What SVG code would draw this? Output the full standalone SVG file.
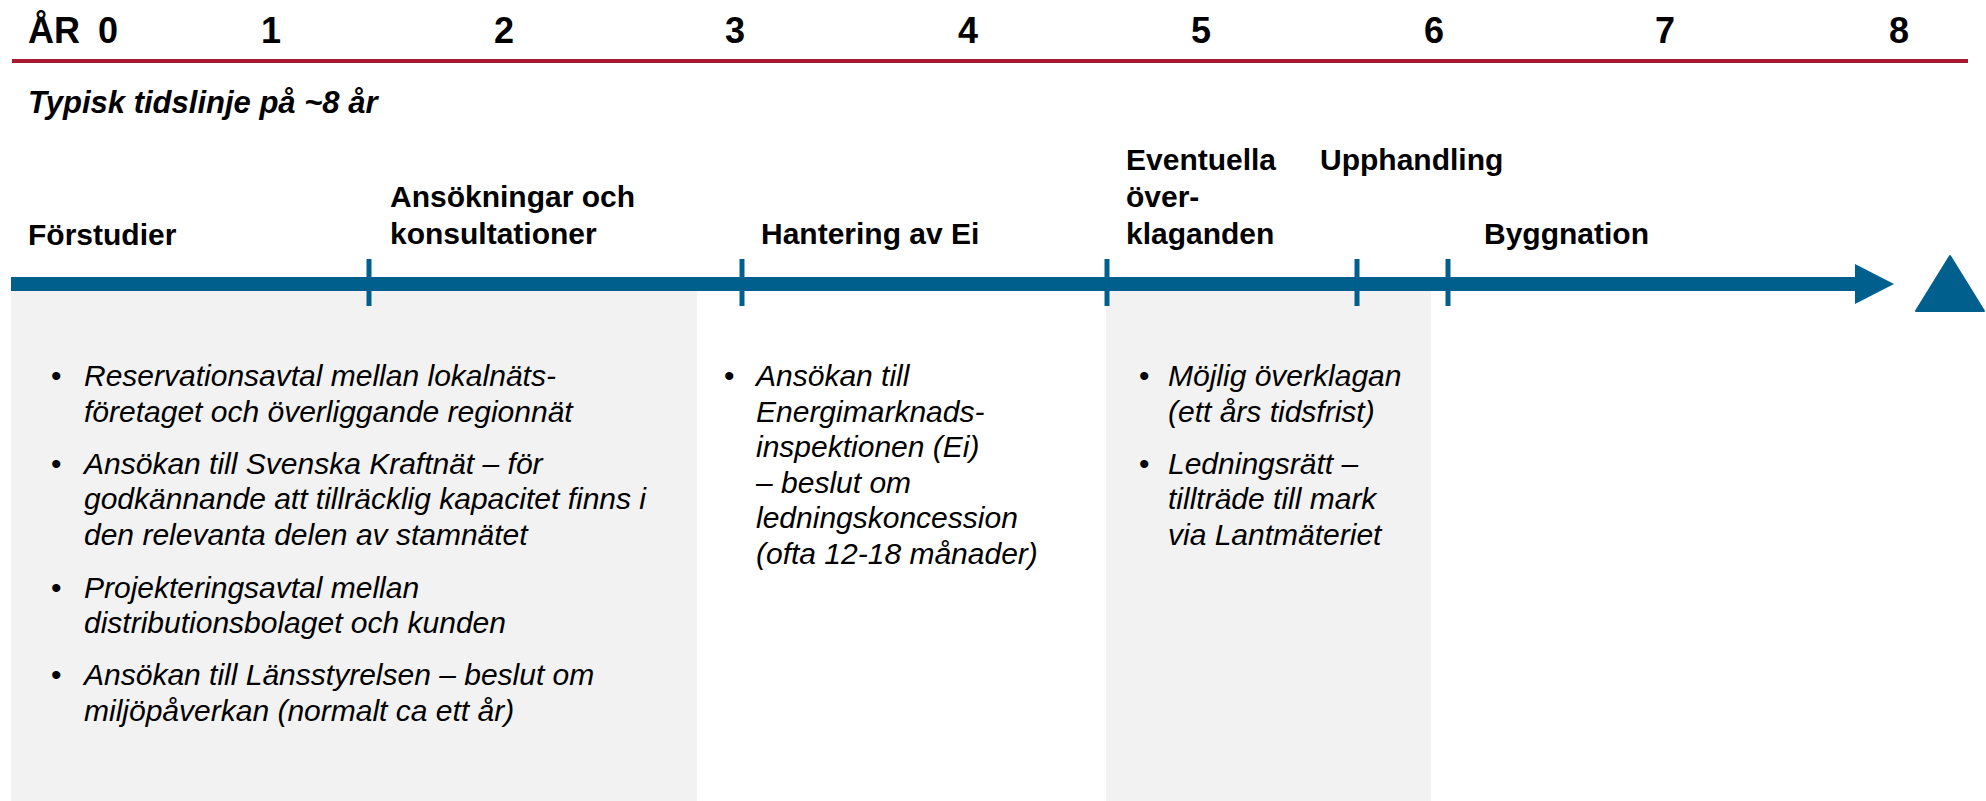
<svg xmlns="http://www.w3.org/2000/svg" width="1986" height="801" viewBox="0 0 1986 801">
<style>
.yr{font-family:"Liberation Sans",Arial,sans-serif;font-weight:bold;font-size:36px;fill:#000}
.ph{font-family:"Liberation Sans",Arial,sans-serif;font-weight:bold;font-size:30px;fill:#000}
.sub{font-family:"Liberation Sans",Arial,sans-serif;font-weight:bold;font-style:italic;font-size:31px;fill:#000}
.bl{font-family:"Liberation Sans",Arial,sans-serif;font-style:italic;font-size:30px;fill:#000}
.bu{font-family:"Liberation Sans",Arial,sans-serif;font-size:30px;fill:#000}
.box{fill:#F2F2F2}
.tick{stroke:#005F8C;stroke-width:5}
</style>
<rect width="1986" height="801" fill="#FFFFFF"/>
<g id="header">
<text class="yr" x="28" y="43">ÅR <tspan x="98">0</tspan></text>
<text class="yr" x="271" y="43" text-anchor="middle">1</text>
<text class="yr" x="504" y="43" text-anchor="middle">2</text>
<text class="yr" x="735" y="43" text-anchor="middle">3</text>
<text class="yr" x="968" y="43" text-anchor="middle">4</text>
<text class="yr" x="1201" y="43" text-anchor="middle">5</text>
<text class="yr" x="1434" y="43" text-anchor="middle">6</text>
<text class="yr" x="1665" y="43" text-anchor="middle">7</text>
<text class="yr" x="1899" y="43" text-anchor="middle">8</text>
<line x1="12" y1="61" x2="1968" y2="61" stroke="#A6192E" stroke-width="4"/>
<text class="sub" x="28" y="113">Typisk tidslinje på ~8 år</text>
</g>
<g id="box-forstudier"><rect class="box" x="11" y="291" width="686" height="510"/></g>
<g id="box-overklaganden"><rect class="box" x="1106" y="291" width="325" height="510"/></g>
<g id="connectors">
<rect x="11" y="277" width="1845" height="14" fill="#005F8C"/>
<polygon points="1855,264 1894,284 1855,304" fill="#005F8C"/>
<line class="tick" x1="369" y1="259" x2="369" y2="306"/>
<line class="tick" x1="742" y1="259" x2="742" y2="306"/>
<line class="tick" x1="1107" y1="259" x2="1107" y2="306"/>
<line class="tick" x1="1357" y1="259" x2="1357" y2="306"/>
<line class="tick" x1="1448" y1="259" x2="1448" y2="306"/>
</g>
<g id="end-marker"><polygon points="1950,256 1984,311 1916,311" fill="#005F8C" stroke="#005F8C" stroke-width="2" stroke-linejoin="round"/></g>
<g id="phase-forstudier"><text class="ph" x="28" y="245">Förstudier</text></g>
<g id="phase-ansokningar"><text class="ph" x="390" y="207">Ansökningar och</text><text class="ph" x="390" y="244">konsultationer</text></g>
<g id="phase-hantering"><text class="ph" x="761" y="244">Hantering av Ei</text></g>
<g id="phase-overklaganden"><text class="ph" x="1126" y="170">Eventuella</text><text class="ph" x="1126" y="207">över-</text><text class="ph" x="1126" y="244">klaganden</text></g>
<g id="phase-upphandling"><text class="ph" x="1320" y="170">Upphandling</text></g>
<g id="phase-byggnation"><text class="ph" x="1484" y="244">Byggnation</text></g>
<g id="bullets-1">
<text class="bu" x="51" y="386">•</text>
<text class="bl" x="84" y="386">Reservationsavtal mellan lokalnäts-</text>
<text class="bl" x="84" y="422">företaget och överliggande regionnät</text>
<text class="bu" x="51" y="474">•</text>
<text class="bl" x="84" y="474">Ansökan till Svenska Kraftnät – för</text>
<text class="bl" x="84" y="509">godkännande att tillräcklig kapacitet finns i</text>
<text class="bl" x="84" y="545">den relevanta delen av stamnätet</text>
<text class="bu" x="51" y="598">•</text>
<text class="bl" x="84" y="598">Projekteringsavtal mellan</text>
<text class="bl" x="84" y="633">distributionsbolaget och kunden</text>
<text class="bu" x="51" y="685">•</text>
<text class="bl" x="84" y="685">Ansökan till Länsstyrelsen – beslut om</text>
<text class="bl" x="84" y="721">miljöpåverkan (normalt ca ett år)</text>
</g>
<g id="bullets-2">
<text class="bu" x="724" y="386">•</text>
<text class="bl" x="756" y="386">Ansökan till</text>
<text class="bl" x="756" y="422">Energimarknads-</text>
<text class="bl" x="756" y="457">inspektionen (Ei)</text>
<text class="bl" x="756" y="493">– beslut om</text>
<text class="bl" x="756" y="528">ledningskoncession</text>
<text class="bl" x="756" y="564">(ofta 12-18 månader)</text>
</g>
<g id="bullets-3">
<text class="bu" x="1139" y="386">•</text>
<text class="bl" x="1168" y="386">Möjlig överklagan</text>
<text class="bl" x="1168" y="422">(ett års tidsfrist)</text>
<text class="bu" x="1139" y="474">•</text>
<text class="bl" x="1168" y="474">Ledningsrätt –</text>
<text class="bl" x="1168" y="509">tillträde till mark</text>
<text class="bl" x="1168" y="545">via Lantmäteriet</text>
</g>
</svg>
